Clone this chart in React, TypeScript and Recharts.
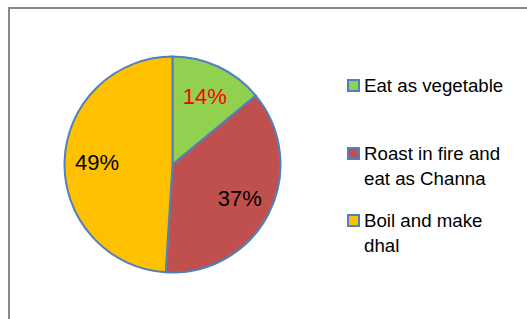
import React from 'react';
import { PieChart, Pie, Cell, Legend } from 'recharts';

const categories = ['Eat as vegetable', 'Roast in fire and eat as Channa', 'Boil and make dhal'];
const shares = [14, 37, 49];

const sliceColors = ['#92D050', '#C0504D', '#FFC000'];
const labelColors = ['#FF0000', '#000000', '#000000'];
const strokeColor = '#4F81BD';
const font = '"Liberation Sans", Arial, sans-serif';

const data = categories.map((name, i) => ({ name, value: shares[i] }));

const RADIAN = Math.PI / 180;
const renderLabel = (props: any) => {
  const { cx, cy, midAngle, outerRadius, index, value } = props;
  const r = outerRadius * 0.7;
  const x = cx + r * Math.cos(-midAngle * RADIAN);
  const y = cy + r * Math.sin(-midAngle * RADIAN);
  return (
    <text
      x={x}
      y={y}
      fill={labelColors[index]}
      textAnchor="middle"
      dominantBaseline="central"
      fontFamily={font}
      fontSize={22}
    >
      {`${value}%`}
    </text>
  );
};

const renderLegend = () => {
  return (
    <div style={{ display: 'flex', flexDirection: 'column', fontFamily: font }}>
      {categories.map((name, i) => (
        <div key={name} style={{ height: 67.5, display: 'flex', alignItems: 'flex-start' }}>
          <div
            style={{
              width: 9,
              height: 9,
              marginTop: 6,
              background: sliceColors[i],
              border: `2px solid ${strokeColor}`,
              flex: '0 0 auto',
            }}
          />
          <div style={{ marginLeft: 4, width: 148, fontSize: 18.7, lineHeight: '25px', color: '#000' }}>
            {name}
          </div>
        </div>
      ))}
    </div>
  );
};

export default function App() {
  return (
    <div style={{ position: 'absolute', left: 0, top: 0, width: 527, height: 319, overflow: 'hidden', background: '#fff' }}>
      <div
        style={{
          position: 'absolute',
          left: 8,
          top: 7,
          width: 700,
          height: 500,
          borderTop: '2px solid #8A8A8A',
          borderLeft: '2px solid #8A8A8A',
        }}
      />
      <div style={{ position: 'absolute', left: 0, top: 0 }}>
        <PieChart width={527} height={319} margin={{ top: 0, right: 0, bottom: 0, left: 0 }}>
          <Pie
            data={data}
            dataKey="value"
            nameKey="name"
            cx={172.5}
            cy={164.5}
            outerRadius={108}
            startAngle={90}
            endAngle={-270}
            stroke={strokeColor}
            strokeWidth={2}
            label={renderLabel}
            labelLine={false}
            isAnimationActive={false}
          >
            {data.map((d, i) => (
              <Cell key={d.name} fill={sliceColors[i]} />
            ))}
          </Pie>
          <Legend
            layout="vertical"
            align="right"
            verticalAlign="top"
            content={renderLegend}
            wrapperStyle={{ position: 'absolute', left: 347, top: 73, width: 170 }}
          />
        </PieChart>
      </div>
    </div>
  );
}
